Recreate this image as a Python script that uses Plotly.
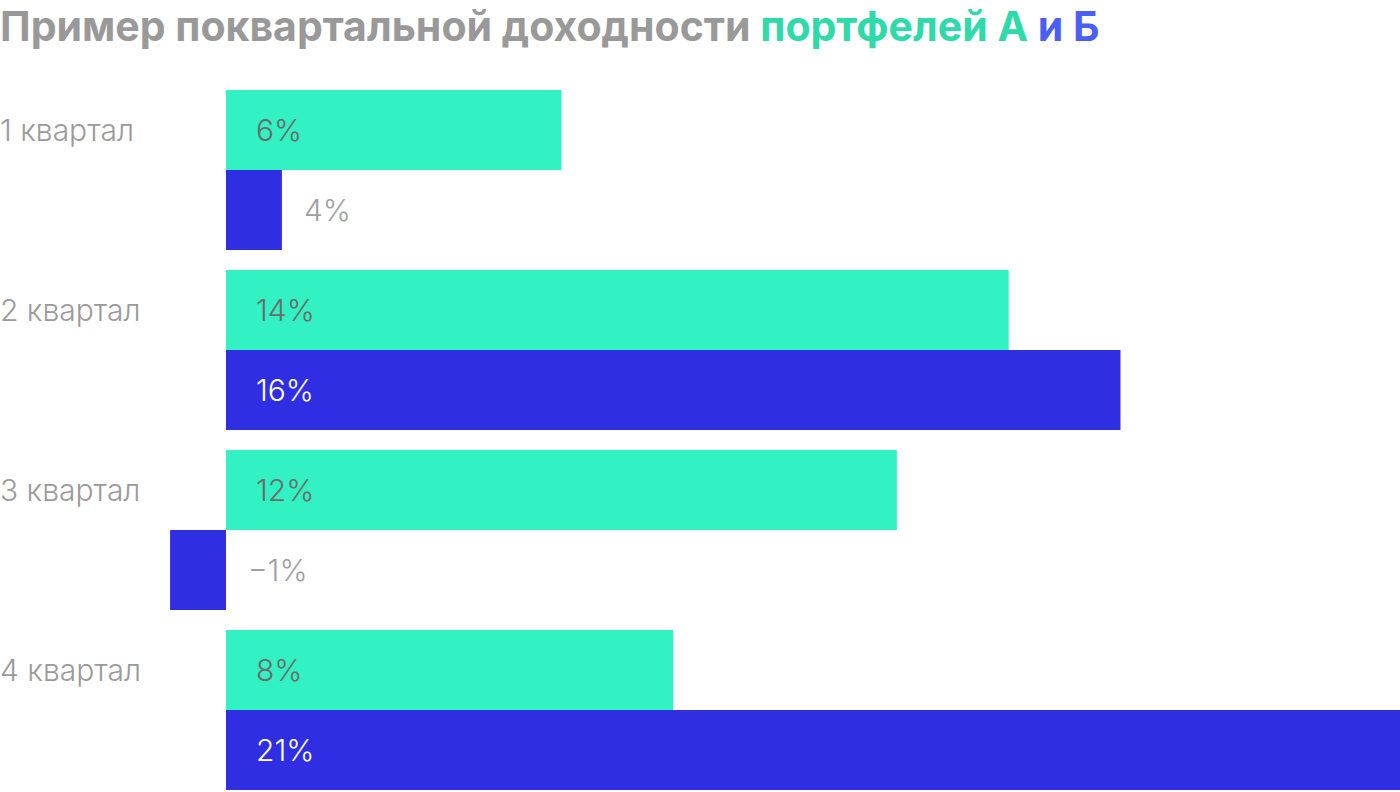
import plotly.graph_objects as go

quarters = ["1 квартал", "2 квартал", "3 квартал", "4 квартал"]
portfolio_a = [6, 14, 12, 8]
portfolio_b = [1, 16, -1, 21]          # bar lengths as drawn
labels_a = ["6%", "14%", "12%", "8%"]
labels_b = ["4%", "16%", "−1%", "21%"]

GREEN = "#32F2C3"
BLUE = "#2F2EE3"
FONT = "Inter"
pos = list(range(len(quarters)))

fig = go.Figure()
fig.add_trace(go.Bar(y=pos, x=portfolio_a, orientation="h", marker_color=GREEN,
                     marker_line_width=0, hoverinfo="skip", name="А"))
fig.add_trace(go.Bar(y=pos, x=portfolio_b, orientation="h", marker_color=BLUE,
                     marker_line_width=0, hoverinfo="skip", name="Б"))

ann = []
off = 2.0 / 9.0  # half of a bar height within a category (in y units)
for i, q in enumerate(quarters):
    ann.append(dict(x=0, xref="paper", y=i - off, yref="y", text=q, showarrow=False,
                    xanchor="left", yanchor="middle", xshift=-2,
                    font=dict(family=FONT, size=30, weight=300, color="#9a9a9a")))
    ann.append(dict(x=0, xref="x", y=i - off, yref="y", text=labels_a[i], showarrow=False,
                    xanchor="left", yanchor="middle", xshift=28,
                    font=dict(family=FONT, size=30, weight=300, color="#6b6b6b")))
    vb = portfolio_b[i]
    if vb >= 2:
        ann.append(dict(x=0, xref="x", y=i + off, yref="y", text=labels_b[i], showarrow=False,
                        xanchor="left", yanchor="middle", xshift=28,
                        font=dict(family=FONT, size=30, weight=300, color="#ffffff")))
    else:
        ann.append(dict(x=max(vb, 0), xref="x", y=i + off, yref="y", text=labels_b[i],
                        showarrow=False, xanchor="left", yanchor="middle", xshift=20,
                        font=dict(family=FONT, size=30, weight=300, color="#a0a0a0")))

title_text = ("<b>Пример поквартальной доходности "
              "<span style='color:#2ED9AA'>портфелей А</span> "
              "<span style='color:#4B5EF5'>и Б</span></b>")

fig.update_layout(
    width=1400, height=792,
    margin=dict(l=0, r=0, t=80, b=0, pad=0),
    paper_bgcolor="white", plot_bgcolor="white",
    barmode="group", bargap=20 / 180, bargroupgap=0,
    showlegend=False,
    title=dict(text=title_text, x=0, xref="container", xanchor="left",
               y=1.0 - 27 / 792, yref="container", yanchor="middle",
               font=dict(family=FONT, size=41, color="#999999")),
    xaxis=dict(range=[-226 / (1174 / 21), 21], visible=False, fixedrange=True),
    yaxis=dict(range=[-0.5 + 712 / 180, -0.5], visible=False, fixedrange=True),
    annotations=ann,
)

fig.write_html("out.html", config={"displayModeBar": False},
               post_script="document.body.style.margin='0';")
